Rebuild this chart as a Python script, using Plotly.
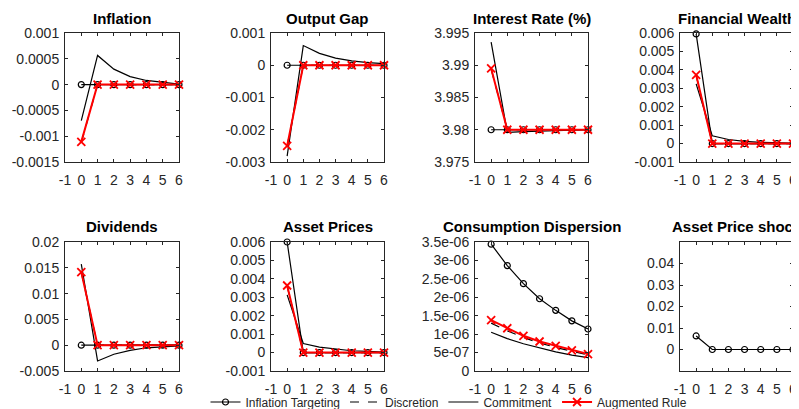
import plotly.graph_objects as go

periods = [0, 1, 2, 3, 4, 5, 6]
series_names = ["Inflation Targeting", "Discretion", "Commitment", "Augmented Rule"]

titles = ["Inflation", "Output Gap", "Interest Rate (%)", "Financial Wealth",
          "Dividends", "Asset Prices", "Consumption Dispersion", "Asset Price shock"]

# values per panel: [IT, Discretion, Commitment, Augmented]
inflation_it = [0, 0, 0, 0, 0, 0, 0]
inflation_disc = [-0.00112, 0, 0, 0, 0, 0, 0]
inflation_comm = [-0.0007, 0.000565, 0.0003, 0.000155, 0.00008, 0.00004, 0.00001]
inflation_aug = [-0.00111, 0, 0, 0, 0, 0, 0]

gap_it = [0, 0, 0, 0, 0, 0, 0]
gap_disc = [-0.0025, 0, 0, 0, 0, 0, 0]
gap_comm = [-0.00282, 0.00061, 0.00037, 0.00022, 0.000135, 0.00008, 0.00005]
gap_aug = [-0.0025, 0, 0, 0, 0, 0, 0]

rate_it = [3.98, 3.98, 3.98, 3.98, 3.98, 3.98, 3.98]
rate_disc = [3.9894, 3.98, 3.98, 3.98, 3.98, 3.98, 3.98]
rate_comm = [3.9936, 3.9796, 3.9797, 3.9798, 3.9799, 3.9799, 3.98]
rate_aug = [3.9895, 3.98, 3.98, 3.98, 3.98, 3.98, 3.98]

wealth_it = [0.00595, 0, 0, 0, 0, 0, 0]
wealth_disc = [0.0037, 0, 0, 0, 0, 0, 0]
wealth_comm = [0.00324, 0.00042, 0.00022, 0.00012, 0.00007, 0.00004, 0.00002]
wealth_aug = [0.00373, 0, 0, 0, 0, 0, 0]

div_it = [0, 0, 0, 0, 0, 0, 0]
div_disc = [0.0141, 0, 0, 0, 0, 0, 0]
div_comm = [0.0157, -0.00305, -0.00175, -0.001, -0.0005, -0.0003, -0.00015]
div_aug = [0.01416, 0, 0, 0, 0, 0, 0]

price_it = [0.006, 0, 0, 0, 0, 0, 0]
price_disc = [0.0036, 0, 0, 0, 0, 0, 0]
price_comm = [0.00313, 0.00049, 0.0003, 0.00018, 0.0001, 0.00006, 0.00003]
price_aug = [0.00364, 0, 0, 0, 0, 0, 0]

disp_it = [3.44e-6, 2.86e-6, 2.37e-6, 1.96e-6, 1.645e-6, 1.36e-6, 1.14e-6]
disp_disc = [1.30e-6, 1.09e-6, 0.91e-6, 0.76e-6, 0.64e-6, 0.53e-6, 0.44e-6]
disp_comm = [1.05e-6, 0.88e-6, 0.74e-6, 0.62e-6, 0.52e-6, 0.43e-6, 0.36e-6]
disp_aug = [1.38e-6, 1.16e-6, 0.955e-6, 0.80e-6, 0.68e-6, 0.56e-6, 0.46e-6]

shock_it = [0.0063, 0, 0, 0, 0, 0, 0]

x_ticks = [-1, 0, 1, 2, 3, 4, 5, 6]

y_ranges = [[-0.0015, 0.001], [-0.003, 0.001], [3.975, 3.995], [-0.001, 0.006],
            [-0.005, 0.02], [-0.001, 0.006], [0, 3.5e-6], [-0.01, 0.05]]
y_tickvals = [
    [-0.0015, -0.001, -0.0005, 0, 0.0005, 0.001],
    [-0.003, -0.002, -0.001, 0, 0.001],
    [3.975, 3.98, 3.985, 3.99, 3.995],
    [-0.001, 0, 0.001, 0.002, 0.003, 0.004, 0.005, 0.006],
    [-0.005, 0, 0.005, 0.01, 0.015, 0.02],
    [-0.001, 0, 0.001, 0.002, 0.003, 0.004, 0.005, 0.006],
    [0, 5e-7, 1e-6, 1.5e-6, 2e-6, 2.5e-6, 3e-6, 3.5e-6],
    [0, 0.01, 0.02, 0.03, 0.04],
]
y_ticktext = [
    ["-0.0015", "-0.001", "-0.0005", "0", "0.0005", "0.001"],
    ["-0.003", "-0.002", "-0.001", "0", "0.001"],
    ["3.975", "3.98", "3.985", "3.99", "3.995"],
    ["-0.001", "0", "0.001", "0.002", "0.003", "0.004", "0.005", "0.006"],
    ["-0.005", "0", "0.005", "0.01", "0.015", "0.02"],
    ["-0.001", "0", "0.001", "0.002", "0.003", "0.004", "0.005", "0.006"],
    ["0", "5e-07", "1e-06", "1.5e-06", "2e-06", "2.5e-06", "3e-06", "3.5e-06"],
    ["0", "0.01", "0.02", "0.03", "0.04"],
]

panels = [
    [inflation_it, inflation_disc, inflation_comm, inflation_aug],
    [gap_it, gap_disc, gap_comm, gap_aug],
    [rate_it, rate_disc, rate_comm, rate_aug],
    [wealth_it, wealth_disc, wealth_comm, wealth_aug],
    [div_it, div_disc, div_comm, div_aug],
    [price_it, price_disc, price_comm, price_aug],
    [disp_it, disp_disc, disp_comm, disp_aug],
    [shock_it],
]

# page body has an 8px default margin: the figure is shrunk and positions offset
OFF = 8
W, H = 799 - OFF, 409 - OFF
x_px = [(65, 179), (271, 384), (475, 588), (680, 793)]
y_px = [(33, 162), (242, 371)]
title_y_px = [18, 227]
legend_px = (449, 402)

FONT = "Liberation Sans, Arial, sans-serif"
AX = "#262626"

styles = [
    dict(mode="lines+markers", line=dict(color="black", width=1.2),
         marker=dict(symbol="circle-open", size=6, color="black", line=dict(width=1.2))),
    dict(mode="lines", line=dict(color="black", width=1.2, dash="dash")),
    dict(mode="lines", line=dict(color="black", width=1.2)),
    dict(mode="lines+markers", line=dict(color="red", width=2),
         marker=dict(symbol="x-thin-open", size=8, color="red", line=dict(width=1.8, color="red"))),
]


def px_x(p):
    return (p - OFF) / W


def px_y(p):
    return 1 - (p - OFF) / H


fig = go.Figure()
layout = {}
annotations = []
for i, (title, data) in enumerate(zip(titles, panels)):
    row, col = divmod(i, 4)
    n = "" if i == 0 else str(i + 1)
    xd = [px_x(x_px[col][0]), px_x(x_px[col][1])]
    yd = [px_y(y_px[row][1]), px_y(y_px[row][0])]
    for k, vals in enumerate(data):
        fig.add_trace(go.Scatter(
            x=periods, y=vals, name=series_names[k], xaxis="x" + n, yaxis="y" + n,
            showlegend=(i == 0), cliponaxis=False, **styles[k]))
    common = dict(showline=True, linecolor=AX, linewidth=1, mirror="ticks", ticks="inside",
                  ticklen=3, tickcolor=AX, showgrid=False, zeroline=False,
                  tickfont=dict(family=FONT, size=14, color=AX))
    layout["xaxis" + n] = dict(domain=xd, anchor="y" + n, range=[-1, 6], ticklabelstandoff=5,
                               tickvals=x_ticks, ticktext=[str(v) for v in x_ticks], **common)
    layout["yaxis" + n] = dict(domain=yd, anchor="x" + n, range=y_ranges[i], ticklabelstandoff=2,
                               tickvals=y_tickvals[i], ticktext=y_ticktext[i], **common)
    annotations.append(dict(text="<b>" + title + "</b>", x=(xd[0] + xd[1]) / 2,
                            y=px_y(title_y_px[row]), xref="paper", yref="paper",
                            xanchor="center", yanchor="middle", showarrow=False,
                            font=dict(family=FONT, size=15, color="black")))

fig.update_layout(
    width=W, height=H, margin=dict(l=0, r=0, t=0, b=0, autoexpand=False),
    paper_bgcolor="white", plot_bgcolor="white",
    annotations=annotations,
    legend=dict(orientation="h", x=px_x(legend_px[0]), xanchor="center",
                y=px_y(legend_px[1]), yanchor="middle",
                bgcolor="rgba(0,0,0,0)", font=dict(family=FONT, size=12, color=AX),
                itemwidth=30, tracegroupgap=0),
    **layout,
)
fig.write_html("out.html")
